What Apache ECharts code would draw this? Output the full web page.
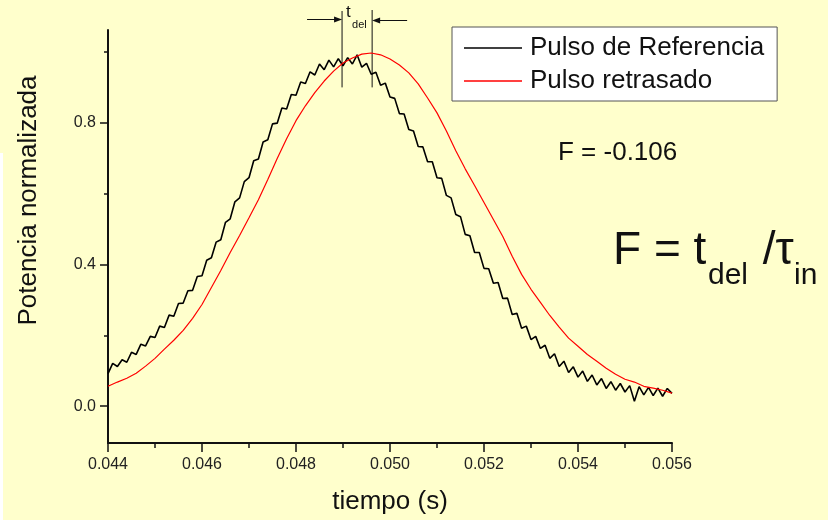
<!DOCTYPE html>
<html>
<head>
<meta charset="utf-8">
<script src="https://cdn.jsdelivr.net/npm/echarts@6/dist/echarts.min.js"></script>
<style>
html, body { margin: 0; padding: 0; background: #FFFFCC; }
#chart { width: 828px; height: 520px; }
</style>
</head>
<body>
<div id="chart"></div>
<script>
/* data */
var seriesNames = ['Pulso de Referencia', 'Pulso retrasado'];

// reference pulse, sampled every 0.0001 s from 0.044 s
var refStart = 0.044, refStep = 0.0001;
var refPulse = [
    0.092,0.121,0.112,0.131,0.124,0.152,0.146,0.175,0.170,0.197,
    0.194,0.226,0.222,0.257,0.254,0.290,0.291,0.326,0.327,0.366,
    0.368,0.412,0.419,0.463,0.470,0.519,0.529,0.577,0.588,0.634,
    0.645,0.693,0.698,0.746,0.752,0.797,0.799,0.842,0.839,0.880,
    0.878,0.915,0.911,0.944,0.935,0.966,0.950,0.977,0.958,0.981,
    0.961,0.984,0.966,0.992,0.957,0.968,0.937,0.943,0.906,0.912,
    0.873,0.869,0.826,0.825,0.781,0.777,0.733,0.732,0.690,0.690,
    0.645,0.643,0.595,0.588,0.541,0.535,0.485,0.481,0.434,0.434,
    0.389,0.388,0.347,0.349,0.304,0.305,0.259,0.262,0.220,0.226,
    0.188,0.197,0.163,0.172,0.135,0.148,0.112,0.127,0.095,0.111,
    0.082,0.099,0.070,0.088,0.060,0.078,0.050,0.069,0.045,0.064,
    0.040,0.058,0.014,0.055,0.032,0.053,0.030,0.051,0.028,0.050,
    0.036
];

// delayed pulse, sampled every 0.0002 s from 0.044 s
var delStart = 0.044, delStep = 0.0002;
var delPulse = [
    0.056,0.068,0.079,0.093,0.113,0.135,0.161,0.186,0.214,0.248,
    0.287,0.335,0.383,0.434,0.482,0.532,0.583,0.640,0.699,0.755,
    0.806,0.848,0.885,0.918,0.946,0.969,0.983,0.994,0.997,0.992,
    0.980,0.963,0.941,0.910,0.870,0.828,0.777,0.721,0.670,0.623,
    0.575,0.527,0.479,0.423,0.372,0.330,0.293,0.256,0.223,0.192,
    0.169,0.146,0.127,0.107,0.090,0.076,0.068,0.056,0.051,0.045,
    0.037
];

var xRange = [0.044, 0.056];
var xInterval = 0.002;
var yRange = [-0.104, 1.062];
var yMajor = [0, 0.4, 0.8];
var yMinor = [0.2, 0.6, 1.0];
var tDel = [0.04898, 0.04962];   // the two markers of t_del
var fText = 'F = -0.106';

var font = 'Arial, "Liberation Sans", sans-serif';

function toPairs(start, step, vals) {
    var out = [];
    for (var i = 0; i < vals.length; i++) {
        out.push([+(start + i * step).toFixed(5), vals[i]]);
    }
    return out;
}

var option = {
    backgroundColor: '#FFFFCC',
    animation: false,
    grid: { left: 108, right: 156, top: 30, bottom: 76 },
    legend: {
        orient: 'vertical',
        left: 452,
        top: 27,
        backgroundColor: '#fff',
        borderColor: '#555',
        borderWidth: 1,
        padding: [8, 13, 7, 12],
        itemWidth: 58,
        itemHeight: 1.5,
        itemGap: 7,
        icon: 'rect',
        textStyle: { fontSize: 26, color: '#111', fontFamily: font, padding: [0, 0, 0, 3] },
        data: seriesNames
    },
    xAxis: {
        type: 'value',
        min: xRange[0],
        max: xRange[1],
        interval: xInterval,
        name: 'tiempo (s)',
        nameLocation: 'middle',
        nameGap: 46,
        nameTextStyle: { fontSize: 26, color: '#111', fontFamily: font },
        axisLine: { onZero: false, lineStyle: { color: '#111', width: 2 } },
        axisTick: { length: 9, lineStyle: { color: '#111', width: 1.5 } },
        minorTick: { show: true, splitNumber: 2, length: 5, lineStyle: { color: '#111', width: 1.5 } },
        axisLabel: {
            margin: 14, fontSize: 16, color: '#222', fontFamily: font,
            formatter: function (v) { return v.toFixed(3); }
        },
        splitLine: { show: false }
    },
    yAxis: [{
        type: 'value',
        min: yRange[0],
        max: yRange[1],
        name: 'Potencia normalizada',
        nameLocation: 'middle',
        nameGap: 66,
        nameTextStyle: { fontSize: 26, color: '#111', fontFamily: font, padding: [0, 0, 0, 72] },
        axisLine: { show: true, onZero: false, lineStyle: { color: '#111', width: 2 } },
        axisTick: { show: true, length: 8, customValues: yMajor, lineStyle: { color: '#111', width: 1.5 } },
        axisLabel: {
            margin: 12, fontSize: 16, color: '#222', fontFamily: font,
            customValues: yMajor,
            formatter: function (v) { return v.toFixed(1); }
        },
        splitLine: { show: false }
    }, {
        // minor ticks only
        type: 'value',
        position: 'left',
        min: yRange[0],
        max: yRange[1],
        axisLine: { show: false },
        axisTick: { show: true, length: 4, customValues: yMinor, lineStyle: { color: '#111', width: 1.5 } },
        axisLabel: { show: false },
        splitLine: { show: false }
    }],
    series: [{
        name: seriesNames[0],
        type: 'line',
        showSymbol: false,
        color: '#000',
        lineStyle: { color: '#000', width: 1.6 },
        data: toPairs(refStart, refStep, refPulse)
    }, {
        name: seriesNames[1],
        type: 'line',
        showSymbol: false,
        color: '#ff0000',
        lineStyle: { color: '#ff0000', width: 1.2 },
        data: toPairs(delStart, delStep, delPulse)
    }]
};

var chart = echarts.init(document.getElementById('chart'));
chart.setOption(option);

/* t_del marker + formulas */
var x1 = chart.convertToPixel({ xAxisIndex: 0 }, tDel[0]);
var x2 = chart.convertToPixel({ xAxisIndex: 0 }, tDel[1]);
var yLow = chart.convertToPixel({ yAxisIndex: 0 }, 0.9);
var lineSt = { stroke: '#111', lineWidth: 1 };

chart.setOption({
    graphic: [
        { type: 'rect', left: 0, top: 153, shape: { width: 3, height: 367 }, style: { fill: '#fff' } },

        { type: 'line', shape: { x1: x1, y1: 11, x2: x1, y2: yLow }, style: lineSt },
        { type: 'line', shape: { x1: x2, y1: 10, x2: x2, y2: yLow }, style: lineSt },
        { type: 'line', shape: { x1: x1 - 35, y1: 19.5, x2: x1 - 6, y2: 19.5 }, style: lineSt },
        { type: 'polygon', shape: { points: [[x1, 19.5], [x1 - 8, 16.5], [x1 - 8, 22.5]] }, style: { fill: '#111' } },
        { type: 'line', shape: { x1: x2 + 35, y1: 20.5, x2: x2 + 6, y2: 20.5 }, style: lineSt },
        { type: 'polygon', shape: { points: [[x2, 20.5], [x2 + 8, 17.5], [x2 + 8, 23.5]] }, style: { fill: '#111' } },
        { type: 'text', left: x1 + 4, top: 4, style: { text: 't', fontSize: 17, fill: '#111', fontFamily: font } },
        { type: 'text', left: x1 + 10, top: 19, style: { text: 'del', fontSize: 11, fill: '#111', fontFamily: font } },

        { type: 'text', left: 558, top: 140, style: { text: fText, fontSize: 26, fill: '#111', fontFamily: font } },

        { type: 'text', left: 613, top: 228, style: { text: 'F = t', fontSize: 46, fill: '#111', fontFamily: font } },
        { type: 'text', left: 708, top: 261, style: { text: 'del', fontSize: 30, fill: '#111', fontFamily: font } },
        { type: 'text', left: 750, top: 228, style: { text: ' /\u03c4', fontSize: 46, fill: '#111', fontFamily: font } },
        { type: 'text', left: 794, top: 261, style: { text: 'in', fontSize: 30, fill: '#111', fontFamily: font } }
    ]
});
</script>
</body>
</html>
